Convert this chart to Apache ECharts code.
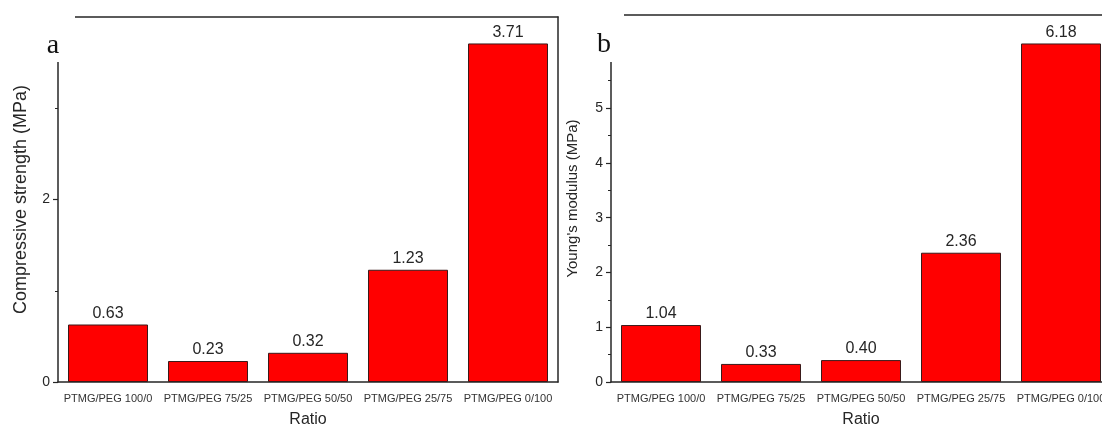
<!DOCTYPE html>
<html>
<head>
<meta charset="utf-8">
<script src="https://cdn.jsdelivr.net/npm/echarts@6/dist/echarts.min.js"></script>
<style>
  html, body { margin: 0; padding: 0; background: #ffffff; overflow: hidden; width: 1102px; height: 433px; }
  /* panel b runs past the right edge, so the canvas is wider than the page */
  #chart { width: 1124px; height: 433px; }
</style>
</head>
<body>
<div id="chart"></div>
<script>
// Blend ratios of the two polymer components
const categories = ['PTMG/PEG 100/0', 'PTMG/PEG 75/25', 'PTMG/PEG 50/50', 'PTMG/PEG 25/75', 'PTMG/PEG 0/100'];
// Panel a: compressive strength (MPa)
const strength = [0.63, 0.23, 0.32, 1.23, 3.71];
// Panel b: Young's modulus (MPa)
const modulus = [1.04, 0.33, 0.40, 2.36, 6.18];

const ink = '#262626';
const sans = '"Liberation Sans", Arial, sans-serif';

const chart = echarts.init(document.getElementById('chart'), null, { renderer: 'canvas' });

function catAxes(gridIndex) {
  return [
    { // bottom axis with labels and centre ticks
      type: 'category', gridIndex, position: 'bottom', data: categories,
      axisLine: { lineStyle: { color: ink, width: 1.5 } },
      axisTick: { alignWithLabel: true, length: 6, lineStyle: { color: ink, width: 1.5 } },
      axisLabel: { color: '#333', fontFamily: sans, fontSize: 11, margin: 11, interval: 0 },
      name: 'Ratio', nameLocation: 'middle', nameGap: 30,
      nameTextStyle: { color: ink, fontFamily: sans, fontSize: 16 }
    },
    { // short ticks at category boundaries
      type: 'category', gridIndex, position: 'bottom', data: categories,
      axisLine: { show: false },
      axisTick: { alignWithLabel: false, length: 3, lineStyle: { color: ink, width: 1.2 } },
      axisLabel: { show: false }
    },
    { // top frame
      type: 'category', gridIndex, position: 'top', data: categories,
      axisLine: { lineStyle: { color: ink, width: 1.5 } },
      axisTick: { show: false }, axisLabel: { show: false }
    }
  ];
}

function valAxes(gridIndex, max, interval, name, nameGap, nameSize) {
  return [
    {
      type: 'value', gridIndex, position: 'left', min: 0, max, interval,
      axisLine: { show: true, lineStyle: { color: ink, width: 1.5 } },
      axisTick: { show: true, length: 5, lineStyle: { color: ink, width: 1.2 } },
      minorTick: { show: true, splitNumber: 2, length: 3, lineStyle: { color: ink, width: 1 } },
      splitLine: { show: false },
      axisLabel: { color: ink, fontFamily: sans, fontSize: 14, margin: 8, showMaxLabel: false },
      name, nameLocation: 'middle', nameGap, nameRotate: 90,
      nameTextStyle: { color: ink, fontFamily: sans, fontSize: nameSize }
    },
    { // right frame
      type: 'value', gridIndex, position: 'right', min: 0, max, interval,
      axisLine: { show: true, lineStyle: { color: ink, width: 1.5 } },
      axisTick: { show: false }, axisLabel: { show: false }, splitLine: { show: false }
    }
  ];
}

function barSeries(xAxisIndex, yAxisIndex, data) {
  return {
    type: 'bar', xAxisIndex, yAxisIndex, data,
    barCategoryGap: '20%',
    itemStyle: { color: '#ff0000', borderColor: '#3a1a1a', borderWidth: 1 },
    label: {
      show: true, position: 'top', distance: 3,
      color: ink, fontFamily: sans, fontSize: 16,
      formatter: p => p.value.toFixed(2)
    }
  };
}

chart.setOption({
  animation: false,
  backgroundColor: '#ffffff',
  grid: [
    { left: 58, top: 17, width: 500, height: 368 },
    { left: 611, top: 15, width: 500, height: 370 }
  ],
  xAxis: [...catAxes(0), ...catAxes(1)],
  yAxis: [
    ...valAxes(0, 4, 2, 'Compressive strength (MPa)', 28, 18),
    ...valAxes(1, 6.7, 1, "Young's modulus (MPa)", 31, 15)
  ],
  series: [
    barSeries(0, 0, strength),
    barSeries(3, 2, modulus)
  ],
  graphic: [
    { type: 'rect', z: 100, shape: { x: 0, y: 0, width: 75, height: 62 }, style: { fill: '#ffffff' } },
    { type: 'text', z: 101, x: 53, y: 46, style: { text: 'a', font: '28px "Liberation Serif", "Times New Roman", serif', fill: '#111', textAlign: 'center', textVerticalAlign: 'middle' } },
    { type: 'rect', z: 100, shape: { x: 562, y: 0, width: 62, height: 62 }, style: { fill: '#ffffff' } },
    { type: 'text', z: 101, x: 604, y: 45, style: { text: 'b', font: '28px "Liberation Serif", "Times New Roman", serif', fill: '#111', textAlign: 'center', textVerticalAlign: 'middle' } }
  ]
});
</script>
</body>
</html>
